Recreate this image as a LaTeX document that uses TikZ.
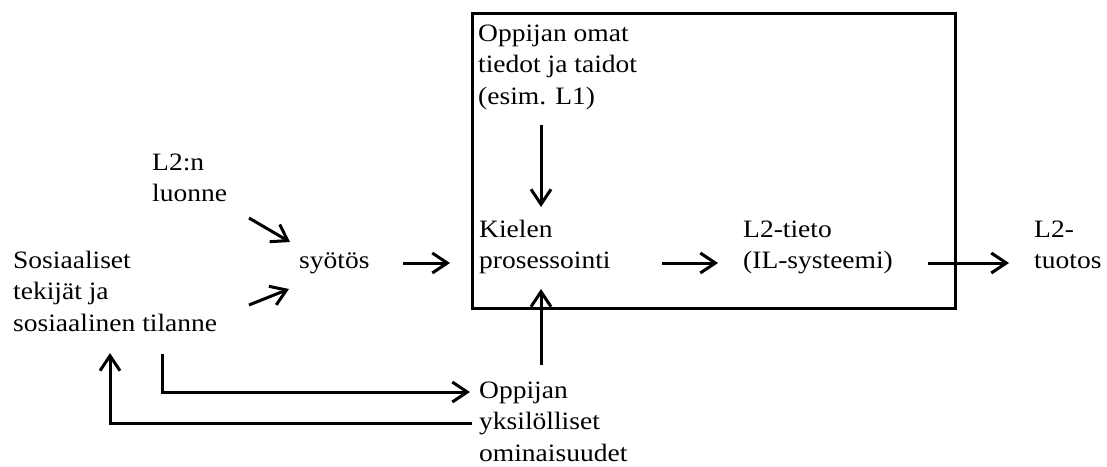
\documentclass[tikz,border=0pt]{standalone}
\usepackage{fontspec}
\setmainfont[FakeStretch=1.1]{Liberation Serif}
\usetikzlibrary{arrows.meta}
\begin{document}
\begin{tikzpicture}[x=1pt,y=-1pt,
  txt/.style={inner sep=0pt, anchor=base west, align=left, font=\fontsize{25pt}{31.5pt}\selectfont},
  arr/.style={line width=3pt, -{Straight Barb[length=15pt,width=20pt]}},
  boxst/.style={draw, line width=3pt, minimum width=483pt, minimum height=295pt, inner sep=0pt}]
\useasboundingbox (0,0) rectangle (1107,466);
% frame
\node[boxst] (box) at (713.5,160.5) {};
% texts (anchor = baseline of the last line)
\node[txt] (luonne) at (152,201.5) {L2:n\\luonne};
\node[txt] (sos) at (13,331) {Sosiaaliset\\tekijät ja\\sosiaalinen tilanne};
\node[txt] (syotos) at (299,268) {syötös};
\node[txt] (omat) at (478,104) {Oppijan omat\\tiedot ja taidot\\(esim. L1)};
\node[txt] (kielen) at (479,268.5) {Kielen\\prosessointi};
\node[txt] (tieto) at (743,268.5) {L2-tieto\\(IL-systeemi)};
\node[txt] (tuotos) at (1034,268.5) {L2-\\tuotos};
\node[txt] (yks) at (479,461) {Oppijan\\yksilölliset\\ominaisuudet};
% connector end points
\coordinate (luonneOut) at (249,218);
\coordinate (syotosInA) at (290,242);
\coordinate (sosOut) at (249,305);
\coordinate (syotosInB) at (289,289);
\coordinate (syotosOut) at (403,263);
\coordinate (kielenIn) at (450,263);
\coordinate (omatOut) at (541,125);
\coordinate (kielenInTop) at (541,207);
\coordinate (yksOut) at (541,365);
\coordinate (kielenInBot) at (541,289);
\coordinate (kielenOut) at (662,263);
\coordinate (tietoIn) at (718,263);
\coordinate (tietoOut) at (928,263);
\coordinate (tuotosIn) at (1009,263);
\coordinate (sosDown) at (162,354);
\coordinate (yksIn) at (470,392);
\coordinate (yksLeft) at (472,423);
\coordinate (sosUp) at (110,353);
% connectors
\draw[arr] (luonneOut) -- (syotosInA);
\draw[arr] (sosOut) -- (syotosInB);
\draw[arr] (syotosOut) -- (kielenIn);
\draw[arr] (omatOut) -- (kielenInTop);
\draw[arr] (yksOut) -- (kielenInBot);
\draw[arr] (kielenOut) -- (tietoIn);
\draw[arr] (tietoOut) -- (tuotosIn);
\draw[arr] (sosDown) |- (yksIn);
\draw[arr] (yksLeft) -| (sosUp);
\end{tikzpicture}
\end{document}
